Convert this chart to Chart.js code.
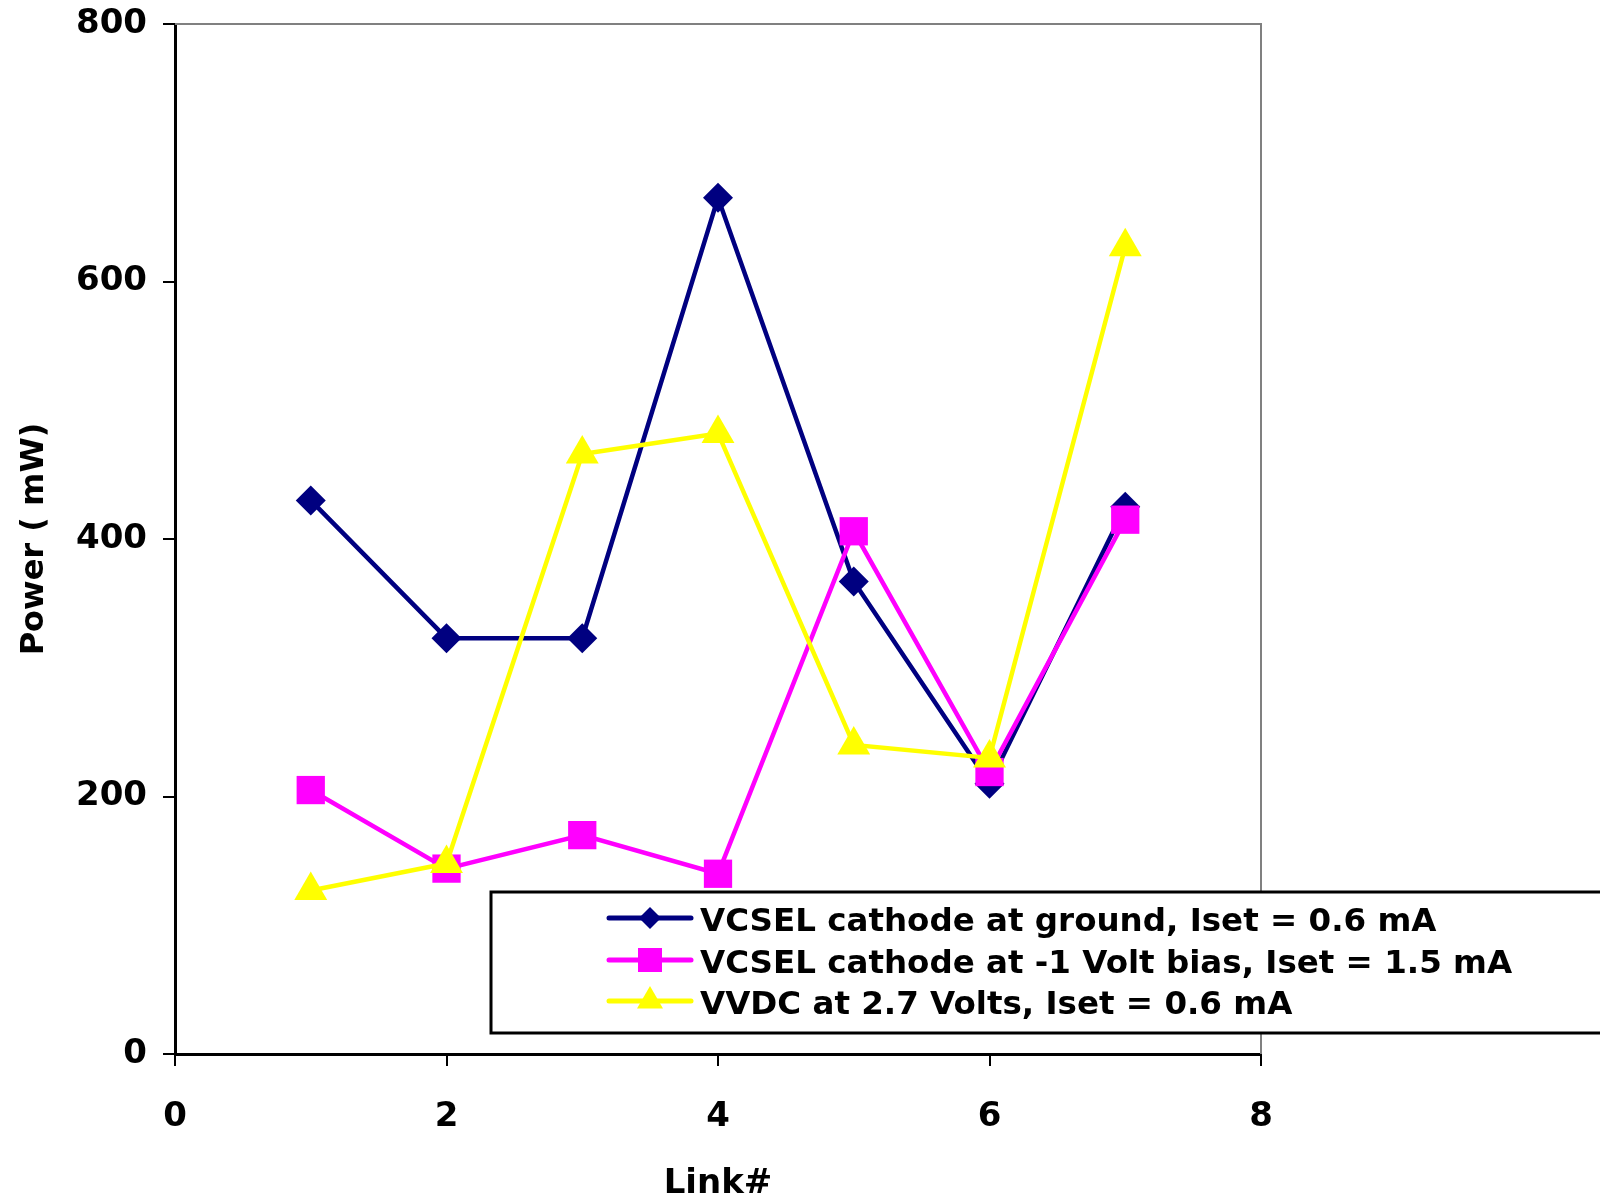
<!DOCTYPE html>
<html>
<head>
<meta charset="utf-8">
<title>Link power</title>
<script src="https://cdn.jsdelivr.net/npm/chart.js@4.4.1/dist/chart.umd.min.js"></script>
<style>
  html, body { margin: 0; padding: 0; background: #fff; }
  #wrap { width: 1600px; height: 1202px; }
</style>
</head>
<body>
<div id="wrap"><canvas id="powerChart" width="1600" height="1202"></canvas></div>
<script>
// link number on x, power per link for each bias configuration
const linkNumbers = [1, 2, 3, 4, 5, 6, 7];
const groundPower = [430, 323, 323, 665, 367, 210, 425];
const biasPower   = [205, 144, 170, 140, 406, 219, 415];
const vvdcPower   = [127, 148, 466, 482, 240, 230, 627];
const seriesLabels = [
  'VCSEL cathode at ground, Iset = 0.6 mA',
  'VCSEL cathode at -1 Volt bias, Iset = 1.5 mA',
  'VVDC at 2.7 Volts, Iset = 0.6 mA'
];

const FONT = 'DejaVu Sans';
const toXY = (ys) => linkNumbers.map((x, i) => ({ x, y: ys[i] }));

// gray frame on top/right of the plot area
const plotFrame = {
  id: 'plotFrame',
  beforeDatasetsDraw(chart) {
    const { ctx, chartArea: a } = chart;
    ctx.save();
    ctx.strokeStyle = '#808080';
    ctx.lineWidth = 2;
    ctx.beginPath();
    ctx.moveTo(a.left, a.top);
    ctx.lineTo(a.right, a.top);
    ctx.lineTo(a.right, a.bottom);
    ctx.stroke();
    ctx.restore();
  }
};

// boxed legend sitting over the lower right of the plot
const boxLegend = {
  id: 'boxLegend',
  afterDraw(chart) {
    const ctx = chart.ctx;
    const box = { x: 491, y: 892, w: 1115, h: 141 };
    ctx.save();
    ctx.fillStyle = '#fff';
    ctx.fillRect(box.x, box.y, box.w, box.h);
    ctx.strokeStyle = '#000';
    ctx.lineWidth = 3;
    ctx.strokeRect(box.x, box.y, box.w, box.h);

    const rows = [918, 960, 1001];
    const sizes = [11, 17, 15];
    chart.data.datasets.forEach((ds, i) => {
      const y = rows[i];
      ctx.strokeStyle = ds.borderColor;
      ctx.lineWidth = 5;
      ctx.lineCap = 'round';
      ctx.beginPath();
      ctx.moveTo(609, y);
      ctx.lineTo(691, y);
      ctx.stroke();
      ctx.fillStyle = ds.pointBackgroundColor;
      Chart.helpers.drawPoint(ctx, { pointStyle: ds.pointStyle, radius: sizes[i], rotation: 0, borderWidth: 0 }, 650, y);

      ctx.fillStyle = '#000';
      ctx.font = 'bold 32.5px "' + FONT + '"';
      ctx.textAlign = 'left';
      ctx.textBaseline = 'alphabetic';
      ctx.fillText(ds.label, 700, y + 13);
    });
    ctx.restore();
  }
};

const lineSet = (label, ys, color, style, radius, order) => ({
  label,
  data: toXY(ys),
  borderColor: color,
  backgroundColor: color,
  pointBackgroundColor: color,
  pointBorderWidth: 0,
  pointStyle: style,
  pointRadius: radius,
  pointHoverRadius: radius,
  borderWidth: 4.5,
  tension: 0,
  order
});

new Chart(document.getElementById('powerChart'), {
  type: 'line',
  data: {
    datasets: [
      lineSet(seriesLabels[0], groundPower, '#000080', 'rectRot', 15, 3),
      lineSet(seriesLabels[1], biasPower, '#FF00FF', 'rect', 20, 2),
      lineSet(seriesLabels[2], vvdcPower, '#FFFF00', 'triangle', 19, 1)
    ]
  },
  options: {
    responsive: false,
    animation: false,
    layout: { padding: { top: 24, right: 339, left: 0, bottom: 0 } },
    plugins: { legend: { display: false }, tooltip: { enabled: false } },
    scales: {
      x: {
        type: 'linear', min: 0, max: 8,
        ticks: { stepSize: 2, color: '#000', padding: 31, font: { family: FONT, size: 34, weight: 'bold' } },
        grid: { drawOnChartArea: false, drawTicks: true, tickLength: 12, color: '#000', lineWidth: 2 },
        border: { color: '#000', width: 3 },
        title: { display: true, text: 'Link#', color: '#000', padding: 1, font: { family: FONT, size: 34, weight: 'bold', lineHeight: 1 } },
        afterFit: (s) => { s.height = 148; s.paddingLeft = 0; s.paddingRight = 0; }
      },
      y: {
        min: 0, max: 800,
        ticks: { stepSize: 200, color: '#000', padding: 16, font: { family: FONT, size: 34, weight: 'bold' } },
        grid: { drawOnChartArea: false, drawTicks: true, tickLength: 12, color: '#000', lineWidth: 2 },
        border: { color: '#000', width: 3 },
        title: { display: true, text: 'Power ( mW)', color: '#000', padding: 19, font: { family: FONT, size: 32, weight: 'bold', lineHeight: 1 } },
        afterFit: (s) => { s.width = 175; s.paddingTop = 0; s.paddingBottom = 0; }
      }
    }
  },
  plugins: [plotFrame, boxLegend]
});
</script>
</body>
</html>
